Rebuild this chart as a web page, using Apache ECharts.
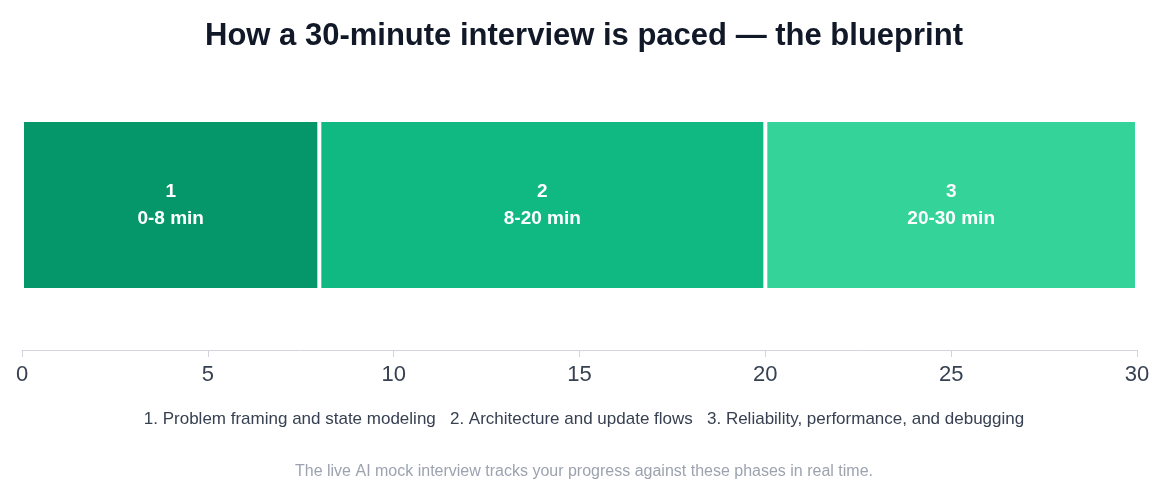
<!DOCTYPE html>
<html>
<head>
<meta charset="utf-8">
<script src="https://cdn.jsdelivr.net/npm/echarts@6/dist/echarts.min.js"></script>
<style>html,body{margin:0;background:#fff}#c{width:1168px;height:499px}</style>
</head>
<body>
<div id="c"></div>
<script>
// phases of the interview
var phaseNames = ['1', '2', '3'];
var phaseRanges = ['0-8 min', '8-20 min', '20-30 min'];
var phaseMinutes = [8, 12, 10];
var phaseColors = ['#059669', '#10b981', '#34d399'];
var phaseLegend = '1. Problem framing and state modeling   2. Architecture and update flows   3. Reliability, performance, and debugging';

var font = 'Helvetica, Arial, "Liberation Sans", sans-serif';
var chart = echarts.init(document.getElementById('c'));

var series = phaseMinutes.map(function (m, i) {
    return {
        name: phaseNames[i],
        type: 'bar',
        stack: 'total',
        barWidth: '100%',
        data: [m],
        itemStyle: {color: phaseColors[i], borderColor: '#fff', borderWidth: 2},
        label: {
            show: true,
            formatter: phaseNames[i] + '\n' + phaseRanges[i],
            color: '#fff',
            fontFamily: font,
            fontWeight: 'bold',
            fontSize: 19,
            lineHeight: 27
        }
    };
});

chart.setOption({
    animation: false,
    title: {
        text: 'How a 30-minute interview is paced — the blueprint',
        left: 'center',
        top: 16,
        textStyle: {fontFamily: font, fontSize: 31, fontWeight: 'bold', color: '#111827'}
    },
    grid: {left: 22, right: 31, top: 120, bottom: 209},
    xAxis: {
        type: 'value',
        min: 0,
        max: 30,
        interval: 5,
        offset: 60,
        splitLine: {show: false},
        axisLine: {show: true, lineStyle: {color: '#d1d5db'}},
        axisTick: {show: true, length: 7, lineStyle: {color: '#d1d5db'}},
        axisLabel: {fontFamily: font, fontSize: 22, color: '#374151', margin: 14}
    },
    yAxis: {type: 'category', data: ['phases'], show: false},
    graphic: [
        {type: 'text', left: 'center', top: 411,
         style: {text: phaseLegend, font: '17px ' + font, fill: '#374151'}},
        {type: 'text', left: 'center', top: 464,
         style: {text: 'The live AI mock interview tracks your progress against these phases in real time.', font: '16px ' + font, fill: '#9ca3af'}}
    ],
    series: series
});
</script>
</body>
</html>
